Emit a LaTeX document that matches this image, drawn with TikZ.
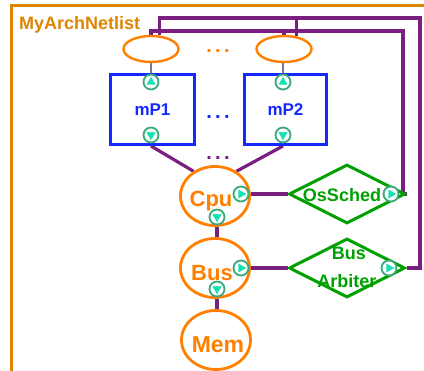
\documentclass[tikz,border=0pt]{standalone}
\usepackage{fontspec}
\setmainfont{Liberation Sans}
\usetikzlibrary{shapes.geometric,backgrounds}
\definecolor{frameor}{RGB}{222,134,0}
\definecolor{ellor}{RGB}{255,128,0}
\definecolor{boxblue}{RGB}{20,40,255}
\definecolor{diagreen}{RGB}{0,160,0}
\definecolor{wirep}{RGB}{122,30,128}
\definecolor{portring}{RGB}{60,170,120}
\definecolor{portteal}{RGB}{20,225,180}
\definecolor{stubgray}{RGB}{110,120,160}
\newcommand\porttri[1]{\fill[portteal,draw=white,line width=0.5pt]
  ([shift={(#1:6pt)}]path picture bounding box.center) --
  ([shift={(#1+120:6pt)}]path picture bounding box.center) --
  ([shift={(#1+240:6pt)}]path picture bounding box.center) -- cycle;}
\tikzset{
 frameline/.style={draw=frameor, line width=3pt},
 titletext/.style={text=frameor, font=\bfseries\fontsize{18}{20}\selectfont, inner sep=0pt},
 topell/.style={ellipse, draw=ellor, line width=2.4pt, minimum width=55pt, minimum height=26pt, inner sep=0pt},
 bigell/.style={ellipse, draw=ellor, line width=2.8pt, minimum width=69pt, minimum height=59pt, inner sep=0pt},
 bigtext/.style={text=ellor, font=\bfseries\fontsize{22}{24}\selectfont, inner sep=0pt},
 mpbox/.style={rectangle, draw=boxblue, line width=3pt, text=boxblue, font=\bfseries\fontsize{17}{19}\selectfont, inner sep=0pt},
 dia/.style={diamond, draw=diagreen, line width=3pt, minimum width=116pt, minimum height=59pt, inner sep=0pt},
 diatext/.style={text=diagreen, font=\bfseries\fontsize{18}{20}\selectfont, inner sep=0pt},
 wire/.style={draw=wirep, line width=3.2pt},
 stub/.style={draw=stubgray, line width=2.2pt},
 dotstext/.style={font=\bfseries\fontsize{20}{22}\selectfont, inner sep=0pt, anchor=base},
 portbase/.style={circle, draw=portring, line width=1.8pt, fill=white, minimum size=15pt, inner sep=0pt},
 portup/.style={portbase, path picture={\porttri{90}}},
 portdown/.style={portbase, path picture={\porttri{270}}},
 portright/.style={portbase, path picture={\porttri{0}}},
}
\begin{document}
\begin{tikzpicture}[x=1pt,y=-1pt]
\useasboundingbox (0,0) rectangle (424,371);
\draw[frameline] (11.5,380) -- (11.5,5.5) -- (430,5.5);
\node[titletext, anchor=base west] (title) at (19,30) {MyArchNetlist};

% top ellipses
\node[topell] (e1) at (151,49) {};
\node[topell] (e2) at (284,49) {};
\node[dotstext, text=ellor] (dtop) at (218,52.5) {.\,.\,.};

% processor boxes
\node[mpbox, minimum width=84pt, minimum height=70pt] (mp1) at (152.5,109.5) {mP1};
\node[mpbox, minimum width=82pt, minimum height=70pt] (mp2) at (285.5,109.5) {mP2};
\node[dotstext, text=boxblue] (dmid) at (218,119) {.\,.\,.};
\node[dotstext, text=wirep] (dlow) at (218,159.5) {.\,.\,.};

% big ellipses
\node[bigell] (cpu) at (215,196) {};
\node[bigtext, anchor=base] (cput) at (211,207) {Cpu};
\node[bigell] (bus) at (215,268) {};
\node[bigtext, anchor=base] (bust) at (212,281) {Bus};
\node[bigell] (mem) at (216,340) {};
\node[bigtext, anchor=base, font=\bfseries\fontsize{23}{25}\selectfont] (memt) at (218,353) {Mem};

% diamonds
\node[dia] (os) at (347,194) {};
\node[diatext, anchor=base] (ost) at (342,202) {OsSched};
\node[dia] (arb) at (347,268) {};
\node[diatext, anchor=base] (arbt1) at (349,260) {Bus};
\node[diatext, anchor=base] (arbt2) at (347,287.5) {Arbiter};

% ports
\node[portup] (p1t) at (151,82) {};
\node[portdown] (p1b) at (151,135) {};
\node[portup] (p2t) at (283,82) {};
\node[portdown] (p2b) at (283,135) {};
\node[portright] (pc1) at (241,194) {};
\node[portdown] (pc2) at (217,217) {};
\node[portright] (pb1) at (241,268) {};
\node[portdown] (pb2) at (217,289) {};
\node[portright] (po) at (391,194) {};
\node[portright] (pa) at (389,268) {};

\coordinate (ib) at (403,31);
\coordinate (ob) at (420,18);

\begin{scope}[on background layer]
\fill[white] (0,0) rectangle (424,371);
\draw[stub] (e1.south -| p1t) -- (p1t.north);
\draw[stub] (e2.south -| p2t) -- (p2t.north);
\draw[wire] (p1b |- mp1.south) -- (cpu.131);
\draw[wire] (p2b |- mp2.south) -- (cpu.49);
\draw[wire] (cpu.east |- os.west) -- (os.west);
\draw[wire] (bus.east |- arb.west) -- (arb.west);
\draw[wire] (cpu.south -| pc2) -- (bus.north -| pc2);
\draw[wire] (bus.south -| pb2) -- (mem.north -| pb2);
\draw[wire] (e1.north) |- (ib) -- (ib |- os.east) -- (os.east);
\draw[wire] (e2.north) -- (e2.north |- ib);
\draw[wire] (e1.58) |- (ob) -- (ob |- arb.east) -- (arb.east);
\draw[wire] (e2.45) -- (e2.45 |- ob);
\end{scope}
\end{tikzpicture}
\end{document}
